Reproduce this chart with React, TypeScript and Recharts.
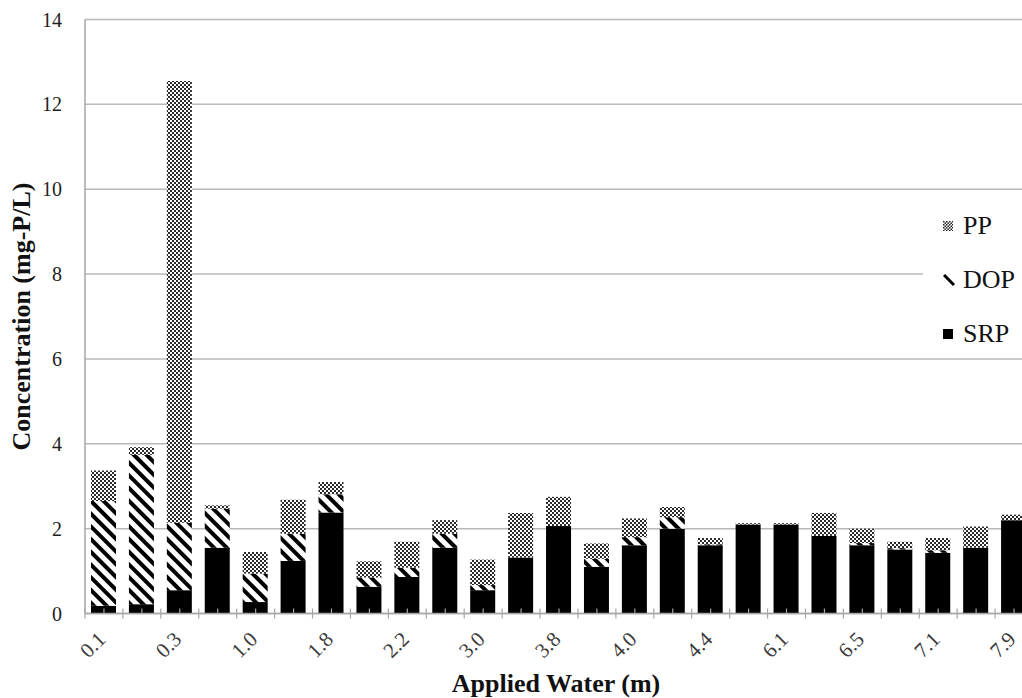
import React from 'react';
import { BarChart, Bar, XAxis, YAxis, CartesianGrid } from 'recharts';

// Applied water depth (m) for each sampling event
const WATER = [
  '0.1', '0.2', '0.3', '0.7', '1.0', '1.4', '1.8', '2.0', '2.2', '2.6',
  '3.0', '3.4', '3.8', '3.9', '4.0', '4.2', '4.4', '5.2', '6.1', '6.3',
  '6.5', '6.8', '7.1', '7.5', '7.9',
];

// Phosphorus fractions (mg-P/L)
const SRP = [
  0.18, 0.22, 0.55, 1.55, 0.27, 1.24, 2.38, 0.63, 0.86, 1.55,
  0.55, 1.32, 2.06, 1.1, 1.61, 2.0, 1.61, 2.1, 2.1, 1.83,
  1.61, 1.51, 1.43, 1.55, 2.2,
];
const DOP = [
  2.47, 3.52, 1.59, 0.92, 0.67, 0.64, 0.43, 0.22, 0.22, 0.33,
  0.12, 0, 0, 0.19, 0.19, 0.27, 0.02, 0, 0, 0,
  0.05, 0.03, 0.06, 0, 0,
];
const PP = [
  0.72, 0.18, 10.41, 0.08, 0.51, 0.8, 0.29, 0.38, 0.61, 0.32,
  0.6, 1.05, 0.69, 0.36, 0.44, 0.24, 0.15, 0.03, 0.03, 0.54,
  0.34, 0.15, 0.29, 0.5, 0.13,
];

const Y_TICKS = [0, 2, 4, 6, 8, 10, 12, 14];

const data = WATER.map((w, i) => ({ water: w, SRP: SRP[i], DOP: DOP[i], PP: PP[i] }));

const FONT = '"Liberation Serif", "Times New Roman", serif';
const AXIS_GREY = '#a6a6a6';

const CHART_W = 1040;
const CHART_H = 690;
const MARGIN = { top: 11.5, right: 15, bottom: 0, left: 0 };
const Y_AXIS_W = 77;
const BAND = (CHART_W - MARGIN.right - MARGIN.left - Y_AXIS_W) / WATER.length;

// category tick: short marks at centre and boundaries, label on every other one
const WaterTick = (props: any) => {
  const { x, y, index, payload } = props;
  const left = x - BAND / 2;
  const right = x + BAND / 2;
  return (
    <g>
      <line x1={x} x2={x} y1={y - 5} y2={y} stroke={AXIS_GREY} strokeWidth={1.2} />
      <line x1={left} x2={left} y1={y - 5} y2={y + 5} stroke={AXIS_GREY} strokeWidth={1.2} />
      {index === WATER.length - 1 && (
        <line x1={right} x2={right} y1={y - 5} y2={y + 5} stroke={AXIS_GREY} strokeWidth={1.2} />
      )}
      {index % 2 === 0 && (
        <text
          x={x + 3}
          y={y + 27}
          textAnchor="end"
          transform={`rotate(-45 ${x + 3} ${y + 27})`}
          fontFamily={FONT}
          fontSize={21}
          fill="#3a3a3a"
        >
          {payload.value}
        </text>
      )}
    </g>
  );
};

// y-axis title drawn in the axis' own svg space
const YTitle = (props: any) => {
  const vb = props.viewBox || { x: 0, y: 0, width: 0, height: 0 };
  const cx = 13;
  const cy = vb.y + vb.height / 2;
  return (
    <text
      x={cx}
      y={cy}
      transform={`rotate(-90 ${cx} ${cy})`}
      textAnchor="middle"
      dominantBaseline="central"
      fontFamily={FONT}
      fontWeight="bold"
      fontSize={26}
      fill="#111"
    >
      Concentration (mg-P/L)
    </text>
  );
};

const LegendSwatch = ({ kind }: { kind: string }) => {
  if (kind === 'PP') {
    return (
      <svg width={10} height={10}>
        <defs>
          <pattern id="pp-key" width={3} height={3} patternUnits="userSpaceOnUse">
            <rect width={3} height={3} fill="#fff" />
            <rect width={1.5} height={1.5} fill="#222" />
            <rect x={1.5} y={1.5} width={1.5} height={1.5} fill="#222" />
          </pattern>
        </defs>
        <rect width={10} height={10} fill="url(#pp-key)" />
      </svg>
    );
  }
  if (kind === 'DOP') {
    return (
      <svg width={12} height={12}>
        <line x1={1} y1={1} x2={11} y2={11} stroke="#000" strokeWidth={3} />
      </svg>
    );
  }
  return (
    <svg width={10} height={10}>
      <rect width={10} height={10} fill="#000" />
    </svg>
  );
};

const LEGEND_ITEMS = ['PP', 'DOP', 'SRP'];

export default function App() {
  // fixed box so the wide plot is clipped at the window edge without scrollbars
  return (
    <div
      style={{
        position: 'fixed',
        left: 8,
        top: 8,
        width: 1014,
        height: CHART_H,
        overflow: 'hidden',
        background: '#fff',
      }}
    >
      <BarChart width={CHART_W} height={CHART_H} data={data} margin={MARGIN} barSize={25}>
        <defs>
          <pattern id="dop-fill" width={9} height={9} patternUnits="userSpaceOnUse" patternTransform="rotate(45)">
            <rect width={9} height={9} fill="#fff" />
            <rect width={9} height={4} fill="#000" />
          </pattern>
          <pattern id="pp-fill" width={4} height={4} patternUnits="userSpaceOnUse">
            <rect width={4} height={4} fill="#fff" />
            <rect width={2} height={2} fill="#2a2a2a" />
            <rect x={2} y={2} width={2} height={2} fill="#2a2a2a" />
          </pattern>
        </defs>
        <CartesianGrid vertical={false} stroke="#b8b8b8" strokeWidth={1.5} />
        <XAxis
          dataKey="water"
          interval={0}
          height={84.5}
          tickSize={0}
          tickMargin={0}
          tickLine={false}
          axisLine={{ stroke: AXIS_GREY, strokeWidth: 1.5 }}
          tick={<WaterTick />}
        />
        <YAxis
          width={Y_AXIS_W}
          domain={[0, 14]}
          ticks={Y_TICKS}
          interval={0}
          tickSize={0}
          tickMargin={23}
          tickLine={false}
          axisLine={{ stroke: AXIS_GREY, strokeWidth: 1.5 }}
          tick={{ fontFamily: FONT, fontSize: 20, fill: '#1e1e1e' }}
          label={<YTitle />}
        />
        <Bar dataKey="SRP" stackId="p" fill="#000" isAnimationActive={false} />
        <Bar dataKey="DOP" stackId="p" fill="url(#dop-fill)" isAnimationActive={false} />
        <Bar dataKey="PP" stackId="p" fill="url(#pp-fill)" isAnimationActive={false} />
      </BarChart>

      <div
        style={{
          position: 'absolute',
          left: 548,
          top: 676,
          transform: 'translate(-50%, -50%)',
          whiteSpace: 'nowrap',
          fontFamily: FONT,
          fontWeight: 'bold',
          fontSize: 26,
          lineHeight: 1,
          color: '#111',
        }}
      >
        Applied Water (m)
      </div>

      {/* legend, sitting on a white panel inside the plot */}
      <div style={{ position: 'absolute', left: 915, top: 192, width: 99, height: 150, background: '#fff' }}>
        {LEGEND_ITEMS.map((k, i) => (
          <div
            key={k}
            style={{
              position: 'absolute',
              left: 20,
              top: 26 + i * 54,
              transform: 'translateY(-50%)',
              display: 'flex',
              alignItems: 'center',
              fontFamily: FONT,
              fontSize: 26,
              color: '#111',
              lineHeight: 1,
            }}
          >
            <span style={{ width: 20, display: 'inline-flex', alignItems: 'center' }}>
              <LegendSwatch kind={k} />
            </span>
            <span>{k}</span>
          </div>
        ))}
      </div>
    </div>
  );
}
